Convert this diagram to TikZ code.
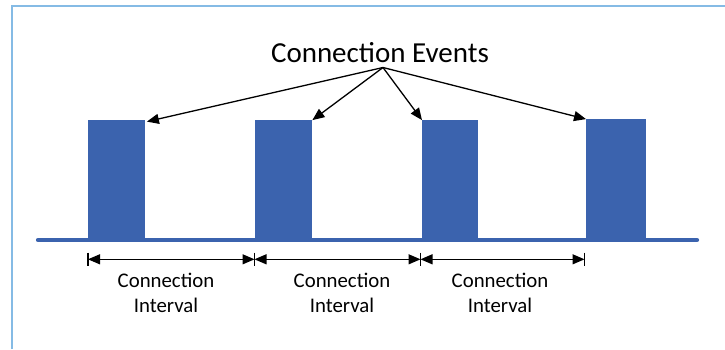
\documentclass[tikz,border=0pt]{standalone}
\usepackage{fontspec}
\setmainfont{Carlito}
\usetikzlibrary{arrows.meta}
\definecolor{framec}{RGB}{133,187,229}
\definecolor{barc}{RGB}{59,99,174}
\tikzset{
  pulse/.style={rectangle, fill=barc, draw=none, inner sep=0pt, minimum width=57pt, minimum height=120pt, anchor=south west},
  evtarrow/.style={-{Triangle[length=12pt,width=10pt]}, line width=1.3pt, shorten >=0pt},
  intarrow/.style={{Triangle[length=12pt,width=10pt]}-{Triangle[length=12pt,width=10pt]}, line width=1.2pt},
  tick/.style={line width=1.2pt},
  lbl/.style={align=center, font=\fontsize{20.8}{25}\selectfont, inner sep=0pt, anchor=base},
}
\begin{document}
\begin{tikzpicture}[x=1pt,y=-1pt]
\useasboundingbox (0,0) rectangle (725,349);
% frame
\draw[framec, line width=2.2pt] (12,349) -- (12,6) -- (726,6);
% baseline
\coordinate (bl) at (38,240);
\coordinate (br) at (697,240);
\draw[barc, line width=4.2pt, line cap=round] (bl) -- (br);
% pulses
\node[pulse] (p1) at (88,240.5) {};
\node[pulse] (p2) at (255,240.5) {};
\node[pulse, minimum width=56pt] (p3) at (422,240.5) {};
\node[pulse, minimum width=60pt, minimum height=121pt] (p4) at (586,240.5) {};
% title
\node[font=\fontsize{29}{34}\selectfont, inner sep=0pt, anchor=base] (title) at (380,62.7) {Connection Events};
\coordinate (apex) at (383,67.5);
\draw[evtarrow] (apex) -- ([xshift=1.5pt,yshift=-1.5pt]p1.north east);
\draw[evtarrow] (apex) -- (p2.north east);
\draw[evtarrow] (apex) -- (p3.north west);
\draw[evtarrow] (apex) -- (p4.north west);
% interval ticks
\foreach \n/\x in {t1/88, t2/254.5, t3/420.5, t4/584.5} {
  \coordinate (\n a) at (\x,252.5);
  \coordinate (\n b) at (\x,266);
  \coordinate (\n) at (\x,259.3);
  \draw[tick] (\n a) -- (\n b);
}
\draw[intarrow] (t1) -- (t2);
\draw[intarrow] (t2) -- (t3);
\draw[intarrow] (t3) -- (t4);
% labels
\node[lbl] (l1) at (166,312.3) {Connection\\Interval};
\node[lbl] (l2) at (342,312.3) {Connection\\Interval};
\node[lbl] (l3) at (500,312.3) {Connection\\Interval};
\end{tikzpicture}
\end{document}
